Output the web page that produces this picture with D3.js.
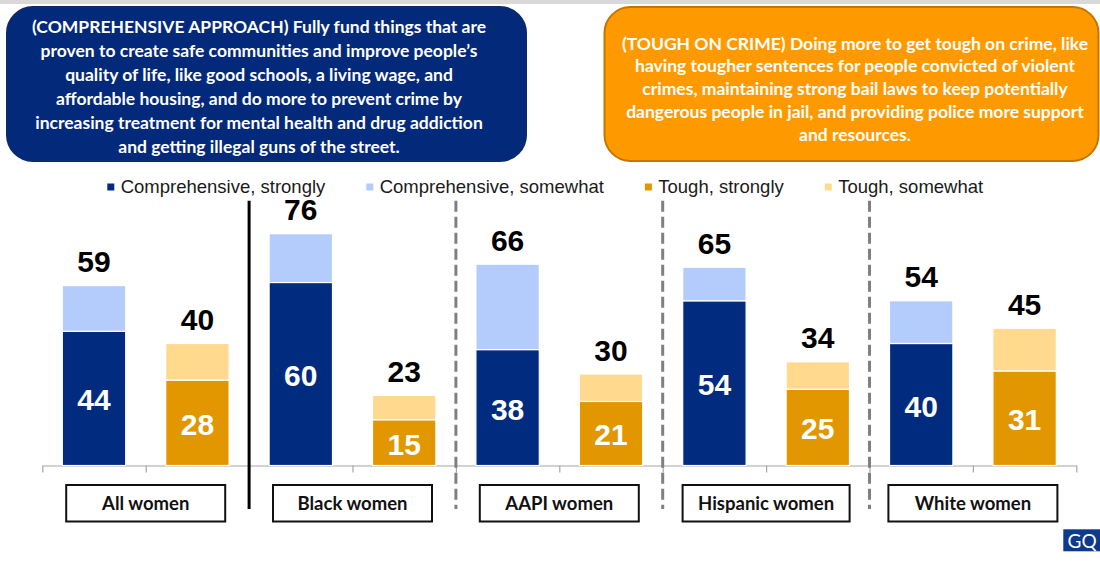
<!DOCTYPE html>
<html>
<head>
<meta charset="utf-8">
<script src="https://cdn.jsdelivr.net/npm/d3@7"></script>
<style>
  html, body { margin: 0; padding: 0; background: #ffffff; }
  svg { display: block; }
</style>
</head>
<body>
<svg id="chart" width="1100" height="567"></svg>
<script>
// ---- data ----------------------------------------------------------
const groups = ["All women", "Black women", "AAPI women", "Hispanic women", "White women"];
const compStrong   = [44, 60, 38, 54, 40];
const compSomewhat = [15, 16, 28, 11, 14];
const toughStrong   = [28, 15, 21, 25, 31];
const toughSomewhat = [12, 8, 9, 9, 14];

const seriesNames = ["Comprehensive, strongly", "Comprehensive, somewhat", "Tough, strongly", "Tough, somewhat"];

const compLines = [
  "(COMPREHENSIVE APPROACH) Fully fund things that are",
  "proven to create safe communities and improve people\u2019s",
  "quality of life, like good schools, a living wage, and",
  "affordable housing, and do more to prevent crime by",
  "increasing treatment for mental health and drug addiction",
  "and getting illegal guns of the street."
];
const toughLines = [
  "(TOUGH ON CRIME) Doing more to get tough on crime, like",
  "having tougher sentences for people convicted of violent",
  "crimes, maintaining strong bail laws to keep potentially",
  "dangerous people in jail, and providing police more support",
  "and resources."
];

// ---- styling -------------------------------------------------------
const colors = ["#002B7F", "#B4CCFB", "#E29700", "#FED98E"];
const numFont = "'Liberation Sans', Arial, sans-serif";
const boxFont = "Lato, 'Open Sans', sans-serif";
const labelBoxWidths = [159, 159, 159, 167, 169];

const svg = d3.select("#chart");

// thin grey strip along the top edge
svg.append("rect").attr("x", 0).attr("y", 0).attr("width", 1100).attr("height", 4).attr("fill", "#d9d9d9");

// ---- headline boxes -------------------------------------------------
function headline(x, y, w, h, fill, stroke, lines, cx, y0, dy, size) {
  svg.append("rect")
    .attr("x", x).attr("y", y).attr("width", w).attr("height", h)
    .attr("rx", 26).attr("ry", 26)
    .attr("fill", fill).attr("stroke", stroke).attr("stroke-width", 2);
  svg.append("g").selectAll("text").data(lines).join("text")
    .attr("x", cx).attr("y", (d, i) => y0 + i * dy)
    .attr("text-anchor", "middle")
    .attr("font-family", boxFont).attr("font-weight", 700)
    .attr("font-size", size).attr("fill", "#ffffff")
    .text(d => d);
}
headline(7, 7, 519, 154, "#03297B", "#0a2a6e", compLines, 259, 33, 24, 17.5);
headline(604.5, 7, 494, 154, "#FE9A00", "#C47600", toughLines, 855, 49.5, 22.8, 17.5);

// ---- scales --------------------------------------------------------
const xGroup = d3.scaleBand().domain(groups).range([42.3, 1076.3]).padding(0);
const xSide = d3.scaleBand().domain(["comp", "tough"]).range([0, xGroup.bandwidth()])
  .paddingInner(0.387).paddingOuter(0.1935);
const y = d3.scaleLinear().domain([0, 100]).range([465.5, 160.5]);
const xTick = d3.scaleLinear().domain([0, groups.length * 2]).range([42.3, 1076.3]);

// ---- legend --------------------------------------------------------
const legend = svg.append("g").attr("font-family", numFont).attr("font-size", 18.5).attr("fill", "#1a1a1a");
let lx = 107.3;
seriesNames.forEach((name, i) => {
  legend.append("rect").attr("x", lx).attr("y", 183.5).attr("width", 7).attr("height", 7).attr("fill", colors[i]);
  const t = legend.append("text").attr("x", lx + 13.4).attr("y", 192.8).text(name);
  lx += 13.4 + t.node().getComputedTextLength() + 41;
});

// ---- axis ----------------------------------------------------------
const axis = svg.append("g").attr("transform", `translate(0,${y(0)})`)
  .call(d3.axisBottom(xTick).tickValues(d3.range(groups.length * 2 + 1)).tickFormat("").tickSize(7).tickSizeOuter(0));
axis.select(".domain").attr("stroke", "#a6a6a6").attr("stroke-width", 1.2);
axis.selectAll(".tick line").attr("stroke", "#a6a6a6").attr("stroke-width", 1.2);

// ---- stacked bars --------------------------------------------------
const rows = groups.map((g, i) => ({
  group: g,
  stacks: [
    { side: "comp", strong: compStrong[i], somewhat: compSomewhat[i], c0: colors[0], c1: colors[1] },
    { side: "tough", strong: toughStrong[i], somewhat: toughSomewhat[i], c0: colors[2], c1: colors[3] }
  ]
}));

const bars = svg.append("g").selectAll("g").data(rows).join("g")
  .attr("transform", d => `translate(${xGroup(d.group)},0)`);

const stack = bars.selectAll("g.stack").data(d => d.stacks).join("g").attr("class", "stack")
  .attr("transform", d => `translate(${xSide(d.side)},0)`);

const bw = xSide.bandwidth();
stack.append("rect")
  .attr("x", 0).attr("width", bw)
  .attr("y", d => y(d.strong)).attr("height", d => y(0) - y(d.strong))
  .attr("fill", d => d.c0).attr("stroke", "#ffffff").attr("stroke-width", 1.2);
stack.append("rect")
  .attr("x", 0).attr("width", bw)
  .attr("y", d => y(d.strong + d.somewhat)).attr("height", d => y(d.strong) - y(d.strong + d.somewhat))
  .attr("fill", d => d.c1).attr("stroke", "#ffffff").attr("stroke-width", 1.2);

// value inside the "strongly" segment
stack.append("text")
  .attr("x", bw / 2).attr("y", d => (y(d.strong) + y(0)) / 2 + 12)
  .attr("text-anchor", "middle").attr("font-family", numFont).attr("font-weight", 700)
  .attr("font-size", 30).attr("fill", "#ffffff")
  .text(d => d.strong);

// total above each stack
stack.append("text")
  .attr("x", bw / 2).attr("y", d => y(d.strong + d.somewhat) - 13.5)
  .attr("text-anchor", "middle").attr("font-family", numFont).attr("font-weight", 700)
  .attr("font-size", 30).attr("fill", "#000000")
  .text(d => d.strong + d.somewhat);

// ---- group dividers -------------------------------------------------
groups.slice(1).forEach((g, i) => {
  const xv = xGroup(g);
  svg.append("line").attr("x1", xv).attr("x2", xv).attr("y1", 200.7).attr("y2", 509)
    .attr("stroke", i === 0 ? "#000000" : "#808080")
    .attr("stroke-width", 3)
    .attr("stroke-dasharray", i === 0 ? null : "11,5");
});

// ---- group label boxes ----------------------------------------------
const labels = svg.append("g").selectAll("g").data(groups).join("g")
  .attr("transform", d => `translate(${xGroup(d) + xGroup.bandwidth() / 2},0)`);
labels.append("rect")
  .attr("x", (d, i) => -labelBoxWidths[i] / 2).attr("y", 485)
  .attr("width", (d, i) => labelBoxWidths[i]).attr("height", 36.5)
  .attr("fill", "#ffffff").attr("stroke", "#111111").attr("stroke-width", 2);
labels.append("text")
  .attr("x", 0).attr("y", 510)
  .attr("text-anchor", "middle").attr("font-family", boxFont).attr("font-weight", 700)
  .attr("font-size", 18.5).attr("fill", "#111111")
  .text(d => d);

// ---- corner logo ----------------------------------------------------
svg.append("rect").attr("x", 1063.3).attr("y", 529.3).attr("width", 40).attr("height", 22).attr("fill", "#0E3A8C");
svg.append("text").attr("x", 1067.5).attr("y", 547.5).attr("font-family", boxFont).attr("font-size", 19)
  .attr("fill", "#ffffff").text("GQ");
</script>
</body>
</html>
